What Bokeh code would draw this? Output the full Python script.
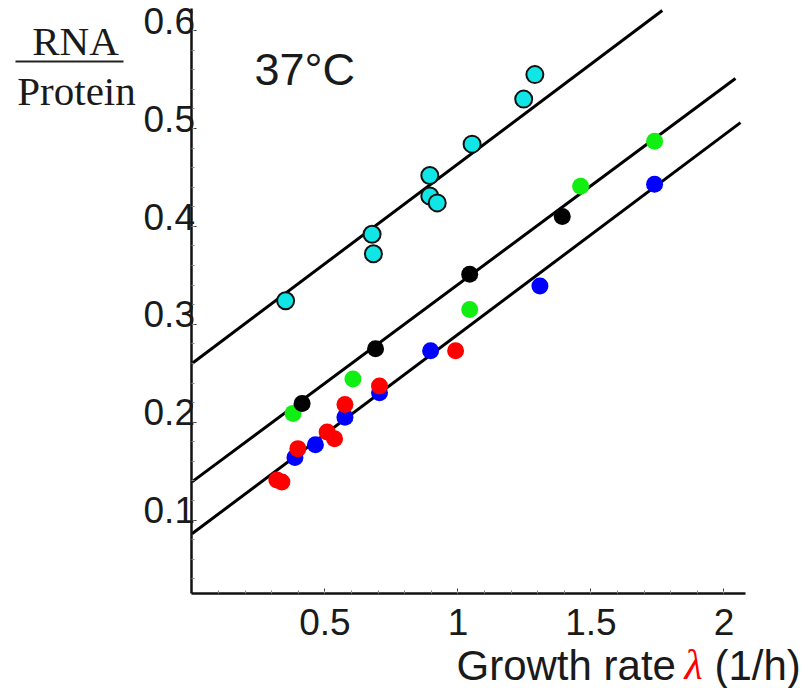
from bokeh.plotting import figure
from bokeh.models import (Range1d, Label, BoxAnnotation, FixedTicker, PrintfTickFormatter,
                          LinearAxis, CustomJSTickFormatter)
from bokeh.embed import file_html
from bokeh.resources import INLINE

# ---- data ----
cyan_x = [0.352, 0.677, 0.682, 0.894, 0.894, 0.922, 1.053, 1.247, 1.289]
cyan_y = [0.324, 0.392, 0.372, 0.452, 0.431, 0.424, 0.484, 0.530, 0.555]

black_x = [0.414, 0.690, 1.044, 1.392]
black_y = [0.219, 0.275, 0.351, 0.410]

green_x = [0.380, 0.605, 1.044, 1.461, 1.739]
green_y = [0.209, 0.244, 0.315, 0.441, 0.487]

blue_x = [0.387, 0.464, 0.575, 0.705, 0.897, 1.308, 1.739]
blue_y = [0.164, 0.177, 0.205, 0.230, 0.273, 0.339, 0.443]

red_x = [0.319, 0.338, 0.398, 0.508, 0.536, 0.575, 0.705, 0.991]
red_y = [0.141, 0.139, 0.173, 0.190, 0.183, 0.218, 0.237, 0.273]

# fitted lines (end points)
line_xs = [[0.0, 1.768], [0.0, 2.043], [0.0, 2.062]]
line_ys = [[0.260, 0.6205], [0.139, 0.551], [0.086, 0.506]]

x_ticks = [0.5, 1.0, 1.5, 2.0]
x_minor = [round(0.1 * i, 2) for i in range(1, 21)]
y_ticks = [0.1, 0.2, 0.3, 0.4, 0.5, 0.6]
y_minor = [round(0.02 * i, 3) for i in range(2, 31)]

W, H = 808, 688
p = figure(width=W, height=H, output_backend="svg", toolbar_location=None,
           x_range=Range1d(-0.7199, 2.3177), y_range=Range1d(-0.0720, 0.6307),
           min_border_left=0, min_border_right=0, min_border_top=0,
           min_border_bottom=0)
p.extra_y_ranges = {"lab": Range1d(-0.0720 - 0.0100, 0.6307 - 0.0100)}
p.outline_line_color = None
p.grid.visible = False
p.background_fill_color = "white"

# main axes (line + ticks), drawn at the origin
for ax in (p.xaxis[0], p.yaxis[0]):
    ax.fixed_location = 0
    ax.axis_line_width = 2.5
    ax.axis_line_color = "#111111"
    ax.major_tick_in = 5
    ax.major_tick_out = 0
    ax.minor_tick_in = 3
    ax.minor_tick_out = 0
    ax.major_tick_line_color = "#333333"
    ax.minor_tick_line_color = "#888888"
    ax.major_label_text_font = "Liberation Sans"
    ax.major_label_text_font_size = "37px"
    ax.major_label_text_color = "#1a1a1a"
    ax.formatter = PrintfTickFormatter(format="%g")

p.xaxis.ticker = FixedTicker(ticks=x_ticks, minor_ticks=x_minor)
p.xaxis.bounds = (0, 2.08)
p.xaxis.major_label_standoff = 15
p.xaxis.fixed_location = 0.025

p.yaxis.ticker = FixedTicker(ticks=y_ticks, minor_ticks=y_minor)
p.yaxis.bounds = (0.025, 0.6226)
p.yaxis.formatter = CustomJSTickFormatter(code="return ''")

# tick labels of the y axis sit just above their ticks
ylab = LinearAxis(y_range_name="lab", fixed_location=0,
                  ticker=FixedTicker(ticks=y_ticks),
                  formatter=PrintfTickFormatter(format="%g"),
                  axis_line_color=None, major_tick_line_color=None,
                  minor_tick_line_color=None, major_tick_in=0, major_tick_out=0,
                  major_label_standoff=-3, major_label_text_font="Liberation Sans",
                  major_label_text_font_size="37px", major_label_text_color="#1a1a1a")
p.add_layout(ylab, "left")

p.multi_line(line_xs, line_ys, line_color="black", line_width=3)

p.scatter(green_x, green_y, size=17, fill_color="#11ee11", line_color=None)
p.scatter(blue_x, blue_y, size=17, fill_color="#0000ff", line_color=None)
p.scatter(red_x, red_y, size=17, fill_color="#ff0000", line_color=None)
p.scatter(black_x, black_y, size=17, fill_color="black", line_color=None)
p.scatter(cyan_x, cyan_y, size=17, fill_color="#10e6e6", line_color="#111111",
          line_width=2)

SHIFT = 15  # the text box sits a little below the requested baseline

def lab(x, y, text, font, size, color="#1a1a1a", align="left", style="normal"):
    # x: pixels from the left, y: baseline in pixels from the top of the picture
    p.add_layout(Label(x=x, y=H - y + SHIFT, x_units="screen", y_units="screen",
                       text=text, text_font=font, text_font_size=size,
                       text_color=color, text_align=align,
                       text_baseline="alphabetic", text_font_style=style))

# y-axis fraction label
lab(75, 55, "RNA", "Liberation Serif", "41px", align="center")
lab(76, 105, "Protein", "Liberation Serif", "41px", align="center")
p.add_layout(BoxAnnotation(left=15, right=123, top=H - 60, bottom=H - 62,
                           left_units="screen", right_units="screen",
                           top_units="screen", bottom_units="screen",
                           fill_color="#222222", fill_alpha=1, line_color=None))

lab(254, 84, "37°C", "Liberation Sans", "45px")

lab(456, 680, "Growth rate", "Liberation Sans", "42px")
lab(684, 679, "λ", "Liberation Serif", "42px", color="#ff0000", style="italic")
lab(714, 680, "(1/h)", "Liberation Sans", "42px")

open("out.html", "w").write(file_html(p, INLINE))
